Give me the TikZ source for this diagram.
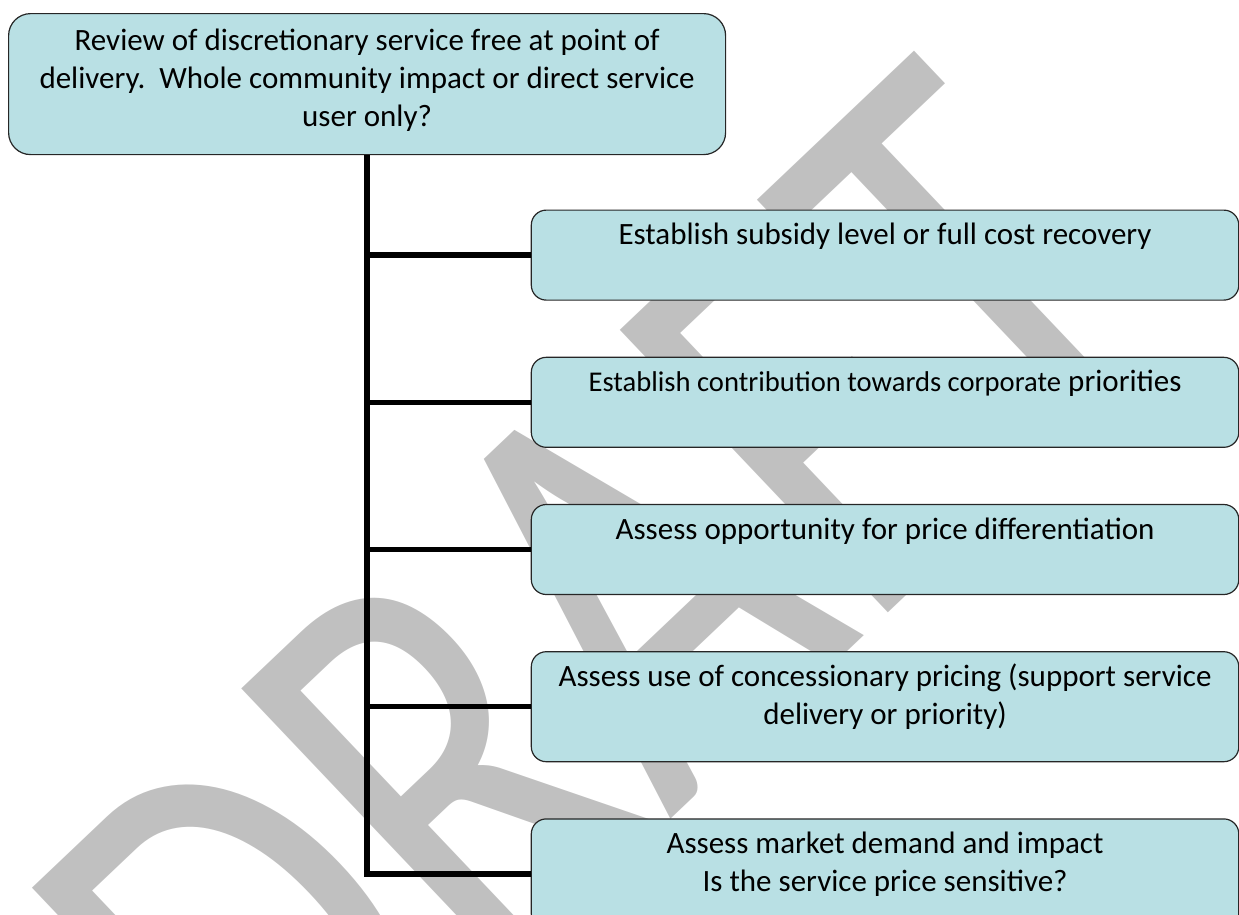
\documentclass[tikz,border=0pt]{standalone}
\usepackage{fontspec}
\setmainfont{Carlito}
\usetikzlibrary{positioning}
\definecolor{boxfill}{RGB}{185,224,228}
\definecolor{draftgrey}{RGB}{192,192,192}
\newcommand{\boxtext}[3]{\parbox[c][#1][t]{#2}{\centering\fontsize{31}{38}\selectfont\strut #3}}

\begin{document}
\begin{tikzpicture}[x=1pt,y=1pt,
    stepbox/.style={draw=black!85,line width=1.2pt,fill=boxfill,rounded corners=15pt,inner xsep=8pt,inner ysep=8pt},
    trunk/.style={line width=5.5pt}]
      \useasboundingbox (0,0) rectangle (1239,-914);
      % watermark behind everything
      \node[draftgrey,inner sep=0pt,rotate=43.5,yscale=1.3,font=\fontsize{467}{467}\selectfont] (draft) at (598,-620) {DRAFT};

      \node[stepbox,rounded corners=22pt,inner ysep=10pt,anchor=north west] (review) at (8,-13)
        {\boxtext{121pt}{701pt}{Review of discretionary service free at point of\\ delivery.\ \ Whole community impact or direct service\\ user only?}};
      \node[stepbox,anchor=north west] (subsidy) at (530.7,-209.5)
        {\boxtext{74pt}{691.5pt}{Establish subsidy level or full cost recovery}};
      \node[stepbox,below=56pt of subsidy] (priorities)
        {\boxtext{74pt}{691.5pt}{{\fontsize{28.6}{38}\selectfont Establish contribution towards corporate} priorities}};
      \node[stepbox,below=56pt of priorities] (differ)
        {\boxtext{74pt}{691.5pt}{Assess opportunity for price differentiation}};
      \node[stepbox,below=56pt of differ] (concession)
        {\boxtext{94pt}{691.5pt}{Assess use of concessionary pricing (support service\\ delivery or priority)}};
      \node[stepbox,below=56pt of concession] (market)
        {\boxtext{94pt}{691.5pt}{Assess market demand and impact\\ Is the service price sensitive?}};

      \draw[trunk] (review.south) |- (market.west);
      \foreach \n in {subsidy,priorities,differ,concession}
        \draw[trunk] (review.south |- \n.west) -- (\n.west);
    \end{tikzpicture}
\end{document}
